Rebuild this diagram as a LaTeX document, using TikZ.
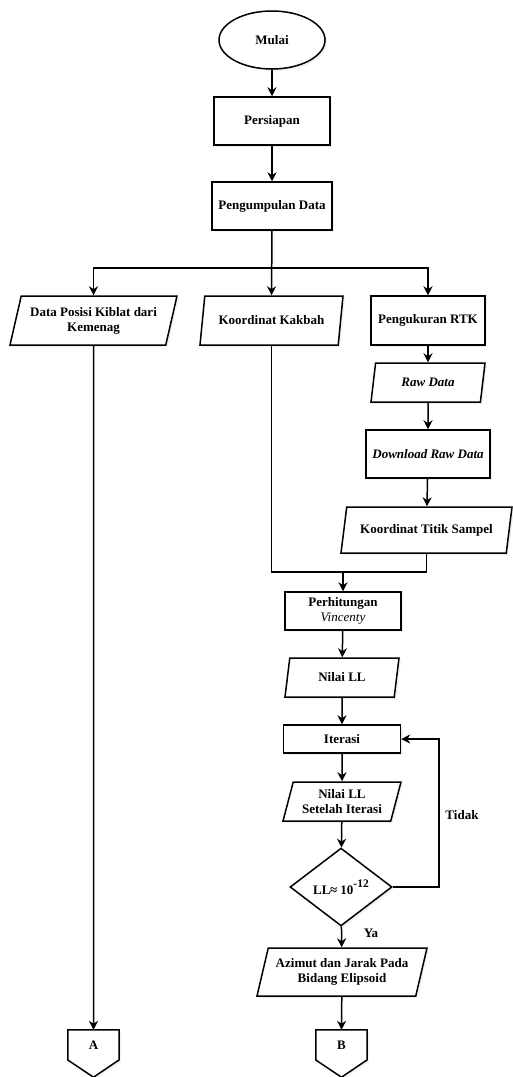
\documentclass[tikz,border=0pt]{standalone}
\usepackage{fontspec}
\setmainfont{Liberation Serif}
\usetikzlibrary{shapes.geometric,arrows.meta,shadows}

\tikzset{
  bayang/.style={drop shadow={shadow xshift=2pt, shadow yshift=-2pt, opacity=0.12}},
  base/.style={draw, line width=1.5pt, fill=white, align=center, inner sep=2pt,
    font=\fontsize{13}{15}\selectfont\bfseries, bayang},
  proses/.style 2 args={base, rectangle, minimum width=#1, minimum height=#2},
  data/.style 2 args={base, trapezium, trapezium left angle=70, trapezium right angle=110,
    trapezium stretches body, minimum width=#1, minimum height=#2},
  mulai/.style={base, ellipse, minimum width=106pt, minimum height=58pt},
  cek/.style={base, diamond, minimum width=102pt, minimum height=76pt},
  konektor/.style={rectangle, minimum width=51pt, minimum height=47pt, inner sep=0pt,
    font=\fontsize{13}{15}\selectfont\bfseries},
  label/.style={font=\fontsize{13}{15}\selectfont\bfseries, inner sep=1pt},
  garis/.style={line width=1.5pt},
  panah/.style={line width=1.5pt, -{Stealth[length=9pt,width=9pt]}}
}

\begin{document}
\begin{tikzpicture}[x=1pt,y=-1pt]
\useasboundingbox (0,0) rectangle (512,1077);

% alur utama
\node[mulai] (mulai) at (272,40) {Mulai};
\node[proses={116pt}{48pt}] (siap) at (272,121) {Persiapan};
\node[proses={120pt}{48pt}] (kumpul) at (272,206) {Pengumpulan Data};

% tiga cabang data
\node[data={167pt}{49pt}] (posisi) at (93.5,320.5) {Data Posisi Kiblat dari\\Kemenag};
\node[data={143pt}{49pt}] (kakbah) at (271.5,320.5) {Koordinat Kakbah};
\node[proses={114pt}{49pt}] (rtk) at (428,320.5) {Pengukuran RTK};
\node[data={114pt}{39pt}] (raw) at (428,382.5) {\itshape Raw Data};
\node[proses={124pt}{48pt}] (unduh) at (428,454) {\itshape Download Raw Data};
\node[data={171pt}{46pt}] (sampel) at (426.5,530) {Koordinat Titik Sampel};

% hitungan vincenty
\node[proses={116pt}{38pt}] (hitung) at (343,611) {Perhitungan\\{\mdseries\itshape Vincenty}};
\node[data={114pt}{39pt}] (nilai) at (342,677.5) {Nilai LL};
\node[proses={117pt}{28pt}] (iterasi) at (342,739) {Iterasi};
\node[data={118pt}{39pt}] (setelah) at (342,801.5) {Nilai LL\\Setelah Iterasi};
\node[cek] (uji) at (341,887) {LL\kern-0.5pt≈ 10\raisebox{1.1ex}{\fontsize{11.5}{12}\selectfont -12}};
\node[data={170pt}{48pt}] (azimut) at (342,972) {Azimut dan Jarak Pada\\Bidang Elipsoid};

% konektor halaman
\node[konektor] (A) at (93.5,1053.5) {};
\node[konektor] (B) at (341.5,1053.5) {};
\foreach \n in {A,B}
  \filldraw[fill=white, line width=1.5pt, line join=miter, bayang]
    (\n.north west) -- (\n.north east) -- ++(0,30) -- (\n.south) -- (\n.north west |- 0,1060) -- cycle;
\node[label] at (93.5,1045) {A};
\node[label] at (341.5,1045) {B};

\node[label] (tidak) at (462,815) {Tidak};
\node[label] (ya) at (371,933) {Ya};

\coordinate (bar) at (272,268);
\coordinate (gabung) at (343,572);

\draw[panah] (mulai) -- (siap);
\draw[panah] (siap) -- (kumpul);
\draw[panah] (kumpul.south) -- (kakbah.north);
\draw[panah] (bar) -| (posisi.north);
\draw[panah] (bar) -| (rtk.north);
\draw[panah] (rtk) -- (raw);
\draw[panah] (raw) -- (unduh);
\draw[panah] (unduh) -- (sampel);
\draw[panah] (posisi.south) -- (A.north);
\draw[garis] (kakbah.south) |- (sampel.south |- gabung) -- (sampel.south);
\draw[panah] (gabung) -- (hitung);
\draw[panah] (hitung) -- (nilai);
\draw[panah] (nilai) -- (iterasi);
\draw[panah] (iterasi) -- (setelah);
\draw[panah] (setelah) -- (uji);
\draw[panah] (uji.east) -- ++(46,0) |- (iterasi.east);
\draw[panah] (uji) -- (azimut);
\draw[panah] (azimut) -- (B.north);
\end{tikzpicture}
\end{document}
